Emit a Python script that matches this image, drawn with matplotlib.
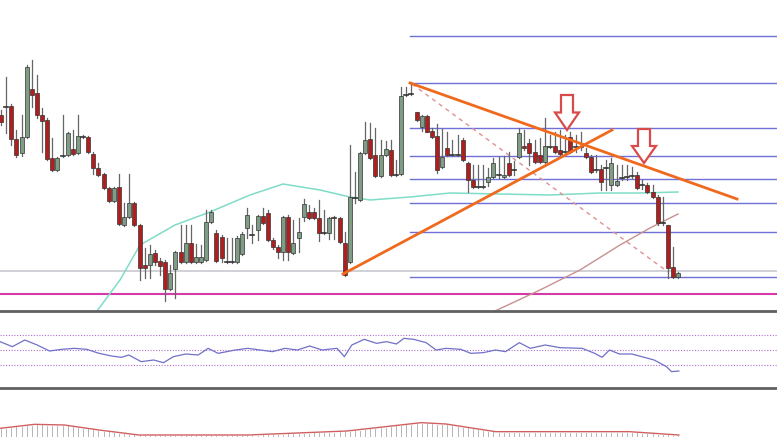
import numpy as np
import matplotlib
matplotlib.use('Agg')
import matplotlib.pyplot as plt
from matplotlib.patches import Polygon

# candles in screen units (y grows downward): body top, body bottom, high, low, kind
candles = [
    (115,122,110,125,'r'), (107,107,77,133,'d'), (106,139,104,145,'r'), (139,155,130,157,'r'),
    (137,153,115,156,'g'), (67,137,65,138,'g'), (89,95,60,107,'r'), (93,115,75,118,'r'),
    (115,121,108,152,'r'), (120,159,118,160,'r'), (158,170,138,171,'r'), (158,170,157,171,'g'),
    (156,156,115,157,'d'), (133,155,132,156,'g'), (149,154,130,155,'r'), (136,153,115,154,'g'),
    (137,137,135,138,'d'), (137,152,136,153,'r'), (154,168,152,174,'r'), (168,175,163,176,'r'),
    (174,188,173,189,'r'), (188,201,187,202,'r'), (188,201,187,202,'g'), (187,224,174,225,'r'),
    (217,225,203,226,'g'), (203,217,174,218,'g'), (203,225,202,226,'r'), (225,268,224,280,'r'),
    (265,268,248,278,'r'), (254,265,245,278,'g'), (253,262,250,265,'r'), (261,266,258,275,'r'),
    (262,289,260,301,'r'), (273,289,265,290,'g'), (252,269,251,298,'g'), (252,262,225,263,'r'),
    (243,262,225,263,'g'), (243,262,225,263,'r'), (257,262,244,263,'g'), (257,262,245,263,'g'),
    (222,260,210,261,'g'), (212,222,210,223,'g'), (233,261,230,262,'r'), (237,258,235,262,'r'),
    (262,262,238,263,'d'), (262,262,238,263,'d'), (238,262,236,263,'g'), (234,254,232,255,'g'),
    (215,228,208,238,'g'), (235,235,225,243,'d'), (216,230,215,240,'g'), (216,223,208,224,'r'),
    (213,240,210,241,'r'), (240,247,238,249,'r'), (247,252,245,258,'r'), (217,252,216,260,'g'),
    (217,252,215,260,'r'), (243,253,220,254,'g'), (232,238,218,252,'g'), (204,217,199,221,'g'),
    (212,218,205,219,'r'), (212,218,208,219,'r'), (218,233,200,241,'r'), (233,233,210,234,'d'),
    (218,233,217,239,'g'), (218,218,216,239,'d'), (218,242,217,243,'r'), (243,275,232,276,'r'),
    (197,262,145,263,'g'), (198,198,172,203,'d'), (153,200,152,201,'g'), (140,153,122,154,'g'),
    (139,158,123,159,'r'), (155,176,128,177,'r'), (155,176,140,177,'g'), (149,155,141,156,'g'),
    (150,175,140,176,'r'), (175,175,160,176,'d'), (96,174,87,175,'g'), (95,95,87,96,'d'),
    (94,94,82,95,'d'), (112,120,112,121,'r'), (116,127,115,131,'g'), (116,132,115,132,'r'),
    (131,137,128,138,'r'), (136,170,124,173,'r'), (157,167,129,168,'g'), (148,155,132,156,'r'),
    (155,155,140,156,'d'), (155,155,135,156,'d'), (140,160,138,161,'r'), (163,180,162,192,'r'),
    (180,187,165,188,'r'), (187,187,165,188,'d'), (187,187,165,188,'d'), (177,182,168,186,'g'),
    (163,177,158,178,'g'), (175,175,157,178,'d'), (175,177,156,178,'g'), (163,175,152,176,'r'),
    (170,170,161,175,'d'), (133,157,128,158,'g'), (146,148,130,150,'r'), (143,153,139,165,'r'),
    (152,162,140,163,'r'), (155,162,138,163,'r'), (146,162,118,163,'g'), (147,147,135,148,'d'),
    (146,152,132,153,'r'), (150,154,130,155,'r'), (152,152,135,153,'d'), (137,152,132,153,'r'),
    (147,147,135,152,'d'), (147,147,132,150,'d'), (153,157,148,158,'r'), (157,172,155,173,'r'),
    (170,170,155,172,'d'), (169,182,165,190,'r'), (168,168,160,190,'d'), (163,185,158,190,'g'),
    (181,185,165,186,'g'), (178,178,165,180,'d'), (177,177,165,180,'d'), (176,176,167,178,'d'),
    (175,188,172,189,'r'), (185,185,180,189,'d'), (185,192,183,193,'r'), (192,197,185,198,'r'),
    (197,223,195,225,'r'), (223,223,197,225,'d'), (225,268,225,278,'r'), (267,277,247,278,'r'),
    (273,277,272,278,'g'),
]
step = 5.13

fib_levels = [36, 83, 128, 156, 179, 203, 232, 277]

ma_fast_x = [97, 120, 140, 175, 210, 250, 283, 320, 350, 370, 410, 450, 500, 550, 600, 640, 678]
ma_fast_y = [311, 280, 245, 225, 212, 195, 184, 190, 197, 200, 197, 193, 194, 195, 193, 193, 192]
ma_slow_x = [495, 540, 580, 620, 650, 678]
ma_slow_y = [311, 290, 270, 245, 228, 214]

rsi_zx = [0, 25, 50, 75, 100, 125, 150, 175, 200, 225, 245, 260, 285, 310, 330, 350, 375, 400, 420,
          440, 475, 500, 525, 550, 575, 600, 625, 650, 680, 695, 710, 735, 760, 780, 800, 815, 835,
          860, 880, 900, 930, 950, 975, 1000, 1020, 1048, 1070, 1100, 1130, 1175, 1200, 1215, 1230,
          1250, 1275, 1300, 1320, 1345, 1355, 1370]
rsi_zy = [125, 140, 120, 135, 153, 148, 145, 148, 160, 168, 172, 165, 185, 180, 188, 170, 162, 165, 145,
          160, 150, 145, 150, 155, 145, 150, 138, 150, 145, 170, 135, 118, 130, 125, 132, 115, 118,
          128, 150, 145, 148, 160, 158, 150, 155, 128, 145, 135, 143, 145, 160, 172, 150,
          162, 162, 172, 180, 200, 215, 213]

macd_zx = [0, 70, 130, 200, 280, 500, 700, 850, 900, 1000, 1270, 1370]
macd_zy = [385, 373, 375, 390, 405, 405, 393, 368, 372, 395, 395, 405]

fig = plt.figure(figsize=(7.77, 4.37), dpi=100)
ax = fig.add_axes([0, 0, 1, 1])
ax.set_xlim(0, 777)
ax.set_ylim(437, 0)
ax.axis('off')

# horizontal levels
for y in fib_levels:
    ax.plot([410, 777], [y, y], color='#7070d8', lw=1.0, zorder=1)
ax.axhline(271, color='#c8c8d0', lw=1.2, zorder=1)
ax.axhline(294, color='#d63aa8', lw=1.5, zorder=1)
ax.axhline(311, color='#606060', lw=2.0, zorder=5)
ax.axhline(388, color='#606060', lw=2.0, zorder=5)

# moving averages
ax.plot(ma_fast_x, ma_fast_y, color='#7fdcc8', lw=1.1, zorder=2)
ax.plot(ma_slow_x, ma_slow_y, color='#c89090', lw=1.0, zorder=2)

# candles
for i, (top, bot, hi, lo, kind) in enumerate(candles):
    x = 1 + i * step
    ax.plot([x, x], [hi, lo], color='#666666', lw=0.9, zorder=3)
    if kind == 'd':
        ax.plot([x - 2, x + 2], [top, top], color='#333333', lw=1.2, zorder=4)
        continue
    fc = '#b01e1e' if kind == 'r' else '#7f9c84'
    ax.add_patch(plt.Rectangle((x - 2, top), 4, max(bot - top, 1.2),
                               facecolor=fc, edgecolor='#333333', lw=0.5, zorder=4))

# trend lines
ax.plot([410, 737], [83, 199], color='#f06a1e', lw=2.0, zorder=6)
ax.plot([343, 612], [274, 130], color='#f06a1e', lw=2.0, zorder=6)
ax.plot([412, 668], [84, 272], color='#e09090', lw=1.0, ls=(0, (3, 3)), zorder=2)

# arrows
def arrow(cx, ytop, h):
    w_shaft, w_head = 6, 12
    pts = [(cx - w_shaft, ytop), (cx + w_shaft, ytop), (cx + w_shaft, ytop + h * 0.5),
           (cx + w_head, ytop + h * 0.5), (cx, ytop + h), (cx - w_head, ytop + h * 0.5),
           (cx - w_shaft, ytop + h * 0.5)]
    ax.add_patch(Polygon(pts, closed=True, facecolor='white', edgecolor='#d94a4a', lw=1.6, zorder=7))

arrow(567, 95, 35)
arrow(644, 129, 34)

# RSI panel
for y in [335, 350, 365]:
    ax.plot([0, 777], [y, y], color='#b070d0', lw=0.8, ls=(0, (1, 1.5)), zorder=2)
rx = np.array(rsi_zx) / 2.018
ry = 300 + np.array(rsi_zy) / 3
ax.plot(rx, ry, color='#7070c8', lw=0.9, zorder=3)

# MACD panel
mx = np.array(macd_zx) / 2.018
my = 300 + np.array(macd_zy) / 3
for i in range(len(candles)):
    x = 1 + i * step
    ax.plot([x, x], [437, np.interp(x, mx, my) + 1], color='#aaaaaa', lw=0.6, zorder=2)
ax.plot(mx, my, color='#d06060', lw=1.0, zorder=3)

fig.savefig('out.png', dpi=100)
